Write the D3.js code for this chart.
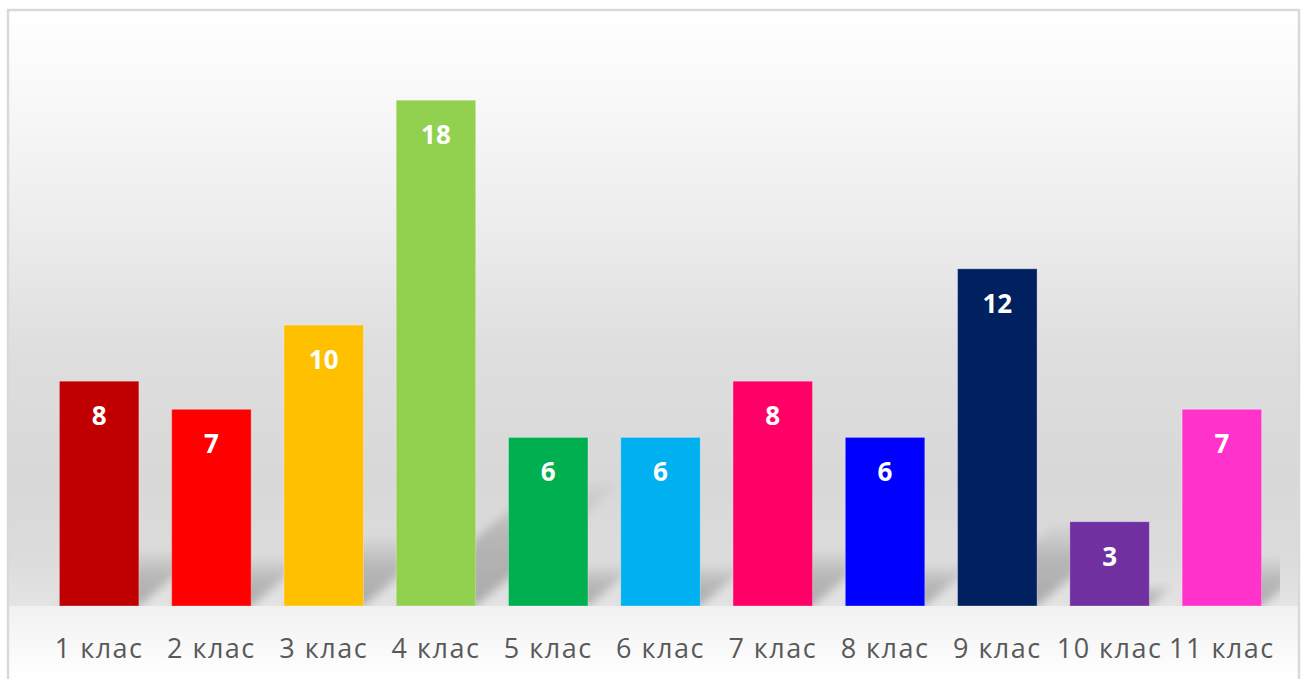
<!DOCTYPE html>
<html>
<head>
<meta charset="utf-8">
<script src="https://cdn.jsdelivr.net/npm/d3@7"></script>
<style>
  body { margin: 0; background: #ffffff; }
  svg { display: block; }
</style>
</head>
<body>
<div id="chart"></div>
<script>
// data
const categories = ["1 клас", "2 клас", "3 клас", "4 клас", "5 клас", "6 клас", "7 клас", "8 клас", "9 клас", "10 клас", "11 клас"];
const values = [8, 7, 10, 18, 6, 6, 8, 6, 12, 3, 7];
const barColors = ["#C00000", "#FF0000", "#FFC000", "#92D050", "#00B050", "#00B0F0", "#FF0066", "#0000FF", "#002060", "#7030A0", "#FF33CC"];

const width = 1306, height = 679;
const plot = {left: 43, right: 1278, top: 44, bottom: 606};

const svg = d3.select("#chart").append("svg")
    .attr("width", width)
    .attr("height", height);

const defs = svg.append("defs");

// chart area background: white at top, grey in the middle, light below the floor
const bg = defs.append("linearGradient")
    .attr("id", "bgGrad")
    .attr("gradientUnits", "userSpaceOnUse")
    .attr("x1", 0).attr("y1", 10).attr("x2", 0).attr("y2", height);
const bgSpan = height - 10;
[
    [10, "#ffffff"],
    [100, "#f8f8f8"],
    [240, "#ebebeb"],
    [350, "#dedede"],
    [480, "#d8d8d8"],
    [560, "#dcdcdc"],
    [605.5, "#e4e4e4"],
    [606.5, "#f1f1f1"],
    [679, "#ffffff"]
].forEach(s => bg.append("stop")
    .attr("offset", ((s[0] - 10) / bgSpan * 100) + "%")
    .attr("stop-color", s[1]));

const blur = defs.append("filter")
    .attr("id", "shadowBlur")
    .attr("x", "-50%").attr("y", "-50%").attr("width", "200%").attr("height", "200%");
blur.append("feGaussianBlur").attr("stdDeviation", 5);

const shGrad = defs.append("linearGradient")
    .attr("id", "shadowGrad")
    .attr("x1", 0).attr("y1", 1).attr("x2", 0).attr("y2", 0);
shGrad.append("stop").attr("offset", "0%").attr("stop-color", "#7a7a7a").attr("stop-opacity", 0.55);
shGrad.append("stop").attr("offset", "60%").attr("stop-color", "#8a8a8a").attr("stop-opacity", 0.45);
shGrad.append("stop").attr("offset", "100%").attr("stop-color", "#999999").attr("stop-opacity", 0.1);

defs.append("clipPath").attr("id", "plotClip")
    .append("rect")
    .attr("x", plot.left).attr("y", 0)
    .attr("width", plot.right + 2 - plot.left)
    .attr("height", plot.bottom);

svg.append("rect")
    .attr("x", 8).attr("y", 10)
    .attr("width", 1291).attr("height", 680)
    .attr("fill", "url(#bgGrad)")
    .attr("stroke", "#d9d9d9")
    .attr("stroke-width", 2.5);

// scales
const x = d3.scaleBand()
    .domain(categories)
    .range([plot.left, plot.right])
    .paddingInner(0.292)
    .paddingOuter(0.146);

const y = d3.scaleLinear()
    .domain([0, 20])
    .range([plot.bottom, plot.top]);

const data = categories.map((c, i) => ({cat: c, value: values[i], color: barColors[i]}));

// perspective shadows behind bars
const shadowK = 0.24, shadowS = 1.18;
svg.append("g")
    .attr("clip-path", "url(#plotClip)")
    .selectAll("path")
    .data(data)
    .join("path")
    .attr("d", d => {
        const x0 = x(d.cat), x1 = x0 + x.bandwidth();
        const h = y(0) - y(d.value);
        const sh = h * shadowK, dx = sh * shadowS;
        const b = y(0);
        return `M${x0},${b}L${x1},${b}L${x1 + dx},${b - sh}L${x0 + dx},${b - sh}Z`;
    })
    .attr("fill", "url(#shadowGrad)")
    .attr("filter", "url(#shadowBlur)");

// bars
svg.append("g")
    .selectAll("rect")
    .data(data)
    .join("rect")
    .attr("x", d => x(d.cat))
    .attr("y", d => y(d.value))
    .attr("width", x.bandwidth())
    .attr("height", d => y(0) - y(d.value))
    .attr("fill", d => d.color)
    .attr("stroke", "rgba(255,255,255,0.3)")
    .attr("stroke-width", 1);

// value labels
svg.append("g")
    .selectAll("text")
    .data(data)
    .join("text")
    .attr("x", d => x(d.cat) + x.bandwidth() / 2)
    .attr("y", d => y(d.value) + 44)
    .attr("text-anchor", "middle")
    .attr("font-family", "'Open Sans', sans-serif")
    .attr("font-weight", "bold")
    .attr("font-size", 26)
    .attr("fill", "#ffffff")
    .text(d => d.value);

// category axis
const xAxis = svg.append("g")
    .attr("transform", `translate(0,${plot.bottom})`)
    .call(d3.axisBottom(x).tickSize(0).tickPadding(33));
xAxis.select(".domain").remove();
xAxis.selectAll("text")
    .attr("font-family", "'Open Sans', sans-serif")
    .attr("font-size", 27)
    .attr("letter-spacing", 1.5)
    .attr("fill", "#595959");
</script>
</body>
</html>
